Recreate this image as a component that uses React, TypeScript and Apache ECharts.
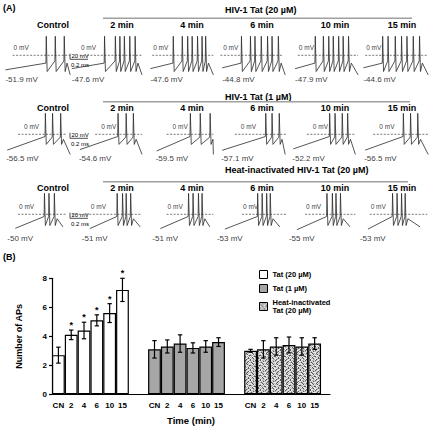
import React, { useEffect, useRef } from 'react';
import * as echarts from 'echarts';

const FONT = "'Liberation Sans', Arial, Helvetica, sans-serif";

// ---------------- Panel A data ----------------
const columnTitles = ['Control', '2 min', '4 min', '6 min', '10 min', '15 min'];
const rowTitles = ['HIV-1 Tat (20 µM)', 'HIV-1 Tat (1 µM)', 'Heat-inactivated HIV-1 Tat (20 µM)'];

// resting potentials (mV) shown under each trace
const restTat20 = [-51.9, -47.6, -47.6, -44.8, -47.9, -44.6];
const restTat1 = [-56.5, -54.6, -59.5, -57.1, -52.2, -56.5];
const restHeat = [-50, -51, -51, -53, -55, -53];

// spike times (ms, scale bar 0.2 ms) within each recording window
const spikesTat20 = [
  [0.51, 0.61, 0.71],
  [0.38, 0.5, 0.55, 0.6, 0.66, 0.72],
  [0.31, 0.41, 0.47, 0.52, 0.58, 0.63, 0.67],
  [0.29, 0.39, 0.44, 0.51, 0.58, 0.63, 0.7],
  [0.31, 0.4, 0.46, 0.51, 0.57, 0.62, 0.68],
  [0.27, 0.33, 0.41, 0.48, 0.54, 0.61, 0.68],
];
const spikesTat1 = [
  [0.5, 0.58, 0.67],
  [0.53, 0.62, 0.7],
  [0.5, 0.61, 0.72],
  [0.56, 0.63, 0.71],
  [0.47, 0.53, 0.61, 0.67],
  [0.5, 0.58, 0.66],
];
const spikesHeat = [
  [0.49, 0.54, 0.6],
  [0.52, 0.58, 0.62, 0.67],
  [0.48, 0.53, 0.59, 0.63],
  [0.47, 0.52, 0.57, 0.61],
  [0.44, 0.5, 0.54, 0.59],
  [0.38, 0.43, 0.48, 0.52],
];

// recording windows [start, end] (ms)
const windowTat20 = [[0.06, 0.78], [0.02, 0.8], [0.06, 0.76], [0.08, 0.78], [0.09, 0.79], [0.06, 0.78]];
const windowTat1 = [[0.08, 0.78], [0.11, 0.8], [0.13, 0.76], [0.08, 0.78], [0.07, 0.76], [0.08, 0.78]];
const windowHeat = [[0.17, 0.7], [0.22, 0.78], [0.17, 0.72], [0.11, 0.72], [0.11, 0.7], [0.11, 0.69]];

// extent of the dashed 0 mV reference line (ms)
const zeroTat20 = [[0.14, 0.78], [0.11, 0.8], [0.08, 0.76], [0.06, 0.76], [0.12, 0.79], [0.08, 0.78]];
const zeroTat1 = [[0.2, 0.74], [0.28, 0.8], [0.24, 0.76], [0.22, 0.8], [0.22, 0.76], [0.17, 0.78]];
const zeroHeat = [[0.2, 0.74], [0.02, 0.8], [0.24, 0.76], [0.3, 0.8], [0.2, 0.76], [0.13, 0.77]];

// spike waveform levels (mV) per row
const spikePeak = [68, 75, 75];
const spikeOnset = [-28, -8, -8];
const spikeThreshold = [-20, -10, -8];
const spikeTrough = [-58, -36, -40];
const traceEndV = [-70, -72, -45];

// ---------------- Panel B data ----------------
const timeLabels = ['CN', '2', '4', '6', '10', '15'];
const seriesNames = ['Tat (20 µM)', 'Tat (1 µM)', 'Heat-inactivated\nTat (20 µM)'];
const tat20Mean = [2.7, 4.1, 4.4, 5.1, 5.6, 7.2];
const tat20Err = [0.55, 0.33, 0.57, 0.38, 0.65, 0.8];
const tat20Sig = [0, 1, 1, 1, 1, 1];
const tat1Mean = [3.1, 3.3, 3.5, 3.2, 3.3, 3.6];
const tat1Err = [0.6, 0.45, 0.6, 0.35, 0.4, 0.3];
const tat1Sig = [0, 0, 0, 0, 0, 0];
const heatMean = [3.0, 3.1, 3.3, 3.4, 3.3, 3.5];
const heatErr = [0.1, 0.6, 0.6, 0.55, 0.6, 0.4];
const heatSig = [0, 0, 0, 0, 0, 0];

// ---------------- layout ----------------
const COL_LEFT = [0, 70, 145, 215, 287, 358];
const COL_CENTER = [53, 122, 192, 262, 335, 402];
const ROW_ZERO_Y = [55.3, 134.3, 214.3];
const ROW_TITLE_Y = [10, 96.5, 170];
const ROW_LINE_Y = [18.3, 101.7, 181.7];
const ROW_LINE_END = [412, 410, 408];
const COL_TITLE_Y = [25, 108.3, 188.3];
const ZERO_LABEL_SHIFT = [1, 6, 1];
const REST_LABEL_SHIFT = [0, -1, -8];
const PX_PER_MS = 90;
const PX_PER_MV = 0.28;
const V_HALF = 100;
const GRID_W = 72;

const B_LEFT = 52;
const B_TOP = 278.3;
const B_W = 278;
const B_H = 116;
const X_MAX = 21.7;
const GROUP_OFFSET = [0, 7.5, 15];

// speckle texture for heat-inactivated bars (0 light, 1 mid, 2 dark)
const SPECKLE = [
  '2011021001',
  '0102110120',
  '1210001201',
  '0021102010',
  '1002011200',
  '2110100012',
  '0101220101',
  '1020011020',
  '0112000121',
  '2001102100',
];

function buildTrace(win: number[], rest: number, spikes: number[], r: number) {
  const pts: number[][] = [[win[0], rest]];
  spikes.forEach((s, i) => {
    pts.push([s, i === 0 ? spikeOnset[r] : spikeThreshold[r]]);
    pts.push([s + 0.004, spikePeak[r]]);
    pts.push([s + 0.014, spikeTrough[r]]);
  });
  const last = spikes[spikes.length - 1];
  if (last + 0.035 < win[1]) pts.push([last + 0.035, spikeThreshold[r] - 8]);
  pts.push([win[1], traceEndV[r]]);
  return pts;
}

function makePattern() {
  const cols = ['#e8e8e8', '#b4b4b4', '#585858'];
  const n = SPECKLE.length;
  const c = document.createElement('canvas');
  c.width = n;
  c.height = n;
  const ctx = c.getContext('2d')!;
  SPECKLE.forEach((row, y) => {
    row.split('').forEach((ch, x) => {
      ctx.fillStyle = cols[Number(ch)];
      ctx.fillRect(x, y, 1, 1);
    });
  });
  return c;
}

function txt(text: string, x: number, y: number, size: number, bold: boolean, align = 'left', color = '#000') {
  return {
    type: 'text',
    x,
    y,
    silent: true,
    style: {
      text,
      fill: color,
      fontSize: size,
      fontWeight: bold ? 'bold' : 'normal',
      fontFamily: FONT,
      align,
      textAlign: align,
      verticalAlign: 'middle',
      textVerticalAlign: 'middle',
    },
  };
}

function buildOption() {
  const grids: any[] = [];
  const xAxes: any[] = [];
  const yAxes: any[] = [];
  const series: any[] = [];
  const graphic: any[] = [];

  const rests = [restTat20, restTat1, restHeat];
  const spikes = [spikesTat20, spikesTat1, spikesHeat];
  const wins = [windowTat20, windowTat1, windowHeat];
  const zeros = [zeroTat20, zeroTat1, zeroHeat];
  const tMax = GRID_W / PX_PER_MS;
  const gridH = 2 * V_HALF * PX_PER_MV;

  for (let r = 0; r < 3; r++) {
    for (let c = 0; c < 6; c++) {
      const idx = r * 6 + c;
      grids.push({ left: COL_LEFT[c], top: ROW_ZERO_Y[r] - gridH / 2, width: GRID_W, height: gridH, containLabel: false });
      xAxes.push({ gridIndex: idx, type: 'value', min: 0, max: tMax, show: false });
      yAxes.push({ gridIndex: idx, type: 'value', min: -V_HALF, max: V_HALF, show: false });
      const win = wins[r][c];
      const z = zeros[r][c];
      series.push({
        type: 'line',
        xAxisIndex: idx,
        yAxisIndex: idx,
        data: buildTrace(win, rests[r][c], spikes[r][c], r),
        symbol: 'none',
        silent: true,
        z: 3,
        lineStyle: { color: '#2a2a2a', width: 0.8 },
      });
      series.push({
        type: 'line',
        xAxisIndex: idx,
        yAxisIndex: idx,
        data: [[z[0], 0], [z[1], 0]],
        symbol: 'none',
        silent: true,
        z: 2,
        lineStyle: { color: '#555', width: 0.8, type: [2, 1.5] },
      });
      series.push({
        type: 'scatter',
        xAxisIndex: idx,
        yAxisIndex: idx,
        symbolSize: 0,
        silent: true,
        itemStyle: { color: '#000' },
        data: [
          {
            name: '0 mV',
            value: [Math.max(z[0], win[0]) + ZERO_LABEL_SHIFT[r] / PX_PER_MS, 27],
            label: { fontSize: 6.5 },
          },
          {
            name: `${rests[r][c]} mV`,
            value: [win[0] + REST_LABEL_SHIFT[r] / PX_PER_MS, -88],
            label: { fontSize: 8 },
          },
        ],
        label: {
          show: true,
          position: 'right',
          distance: 0,
          formatter: '{b}',
          color: '#000',
          fontFamily: FONT,
        },
      });
    }
    // row header, line, column titles
    graphic.push(txt(rowTitles[r], 225, ROW_TITLE_Y[r], 9, true));
    graphic.push({
      type: 'line',
      silent: true,
      shape: { x1: 103, y1: ROW_LINE_Y[r], x2: ROW_LINE_END[r], y2: ROW_LINE_Y[r] },
      style: { stroke: '#a0a0a0', lineWidth: 1.6 },
    });
    columnTitles.forEach((t, c) => graphic.push(txt(t, COL_CENTER[c], COL_TITLE_Y[r], 9, true, 'center')));
    // scale bar
    const zy = ROW_ZERO_Y[r];
    const sx = 70;
    graphic.push({
      type: 'polyline',
      silent: true,
      shape: { points: [[sx, zy - 1.6], [sx, zy + 4], [sx + 18, zy + 4]] },
      style: { stroke: '#222', lineWidth: 0.8, fill: null },
    });
    graphic.push(txt('20 mV', sx + 1.5, zy + 1, 6, false));
    graphic.push(txt('0.2 ms', sx + 1, zy + 9.5, 6, false));
  }
  graphic.push(txt('(A)', 3, 7.5, 9, true));
  graphic.push(txt('(B)', 3, 256.7, 9, true));

  // ---------------- Panel B ----------------
  const bIdx = 18;
  grids.push({ left: B_LEFT, top: B_TOP, width: B_W, height: B_H, containLabel: false });
  const xPos = (g: number, i: number) => GROUP_OFFSET[g] + i + 0.5;
  const labelPositions: number[] = [];
  const labelMap: Record<string, string> = {};
  for (let g = 0; g < 3; g++) {
    timeLabels.forEach((l, i) => {
      const v = xPos(g, i);
      labelPositions.push(v);
      labelMap[v.toFixed(2)] = l;
    });
  }
  xAxes.push({
    gridIndex: bIdx,
    type: 'value',
    min: 0,
    max: X_MAX,
    splitLine: { show: false },
    axisTick: { show: false },
    axisLine: { show: true, lineStyle: { color: '#000', width: 1.2 } },
    axisLabel: {
      customValues: labelPositions,
      formatter: (v: number) => labelMap[Number(v).toFixed(2)] ?? '',
      color: '#000',
      fontSize: 8,
      fontWeight: 'bold',
      fontFamily: FONT,
      margin: 7,
      showMinLabel: true,
      showMaxLabel: true,
    },
    name: 'Time (min)',
    nameLocation: 'middle',
    nameGap: 21,
    nameTextStyle: { color: '#000', fontSize: 9.5, fontWeight: 'bold', fontFamily: FONT },
  });
  yAxes.push({
    gridIndex: bIdx,
    type: 'value',
    min: 0,
    max: 8,
    interval: 2,
    splitLine: { show: false },
    axisLine: { show: true, lineStyle: { color: '#000', width: 1.2 } },
    axisTick: { show: true, length: 3, lineStyle: { color: '#000', width: 1.2 } },
    axisLabel: { color: '#000', fontSize: 8, fontWeight: 'bold', fontFamily: FONT, margin: 5 },
    name: 'Number of APs',
    nameLocation: 'middle',
    nameGap: 29,
    nameRotate: 90,
    nameTextStyle: { color: '#000', fontSize: 9, fontWeight: 'bold', fontFamily: FONT },
  });

  const barW = B_W / X_MAX;
  const pattern = makePattern();
  const fills: any[] = ['#ffffff', '#a6a6a6', { image: pattern, repeat: 'repeat' }];
  const means = [tat20Mean, tat1Mean, heatMean];
  const errs = [tat20Err, tat1Err, heatErr];
  const sigs = [tat20Sig, tat1Sig, heatSig];
  for (let g = 0; g < 3; g++) {
    series.push({
      type: 'bar',
      name: seriesNames[g],
      xAxisIndex: bIdx,
      yAxisIndex: bIdx,
      barWidth: barW,
      barGap: '-100%',
      z: 2,
      silent: true,
      data: means[g].map((v, i) => [xPos(g, i), v]),
      itemStyle: { color: fills[g], borderColor: '#000', borderWidth: 1.2 },
    });
  }
  const errData: number[][] = [];
  for (let g = 0; g < 3; g++) {
    means[g].forEach((m, i) => errData.push([xPos(g, i), m, errs[g][i], sigs[g][i]]));
  }
  series.push({
    type: 'custom',
    xAxisIndex: bIdx,
    yAxisIndex: bIdx,
    z: 5,
    silent: true,
    data: errData,
    encode: { x: 0, y: 1 },
    renderItem: (_params: any, api: any) => {
      const x = api.value(0);
      const m = api.value(1);
      const e = api.value(2);
      const s = api.value(3);
      const top = api.coord([x, m + e]);
      const bot = api.coord([x, m - e]);
      const cap = 2.2;
      const st = { stroke: '#000', lineWidth: 1.2 };
      const children: any[] = [
        { type: 'line', shape: { x1: top[0], y1: top[1], x2: bot[0], y2: bot[1] }, style: st },
        { type: 'line', shape: { x1: top[0] - cap, y1: top[1], x2: top[0] + cap, y2: top[1] }, style: st },
        { type: 'line', shape: { x1: bot[0] - cap, y1: bot[1], x2: bot[0] + cap, y2: bot[1] }, style: st },
      ];
      if (s) {
        children.push({
          type: 'text',
          x: top[0],
          y: top[1] - 5,
          style: {
            text: '*',
            fill: '#000',
            fontSize: 9,
            fontWeight: 'bold',
            fontFamily: FONT,
            align: 'center',
            verticalAlign: 'middle',
          },
        });
      }
      return { type: 'group', children };
    },
  });

  return {
    animation: false,
    backgroundColor: '#ffffff',
    grid: grids,
    xAxis: xAxes,
    yAxis: yAxes,
    series,
    graphic,
    legend: {
      data: seriesNames,
      orient: 'vertical',
      left: 254,
      top: 265,
      icon: 'rect',
      itemWidth: 8,
      itemHeight: 8,
      itemGap: 5,
      selectedMode: false,
      itemStyle: { borderColor: '#000', borderWidth: 1 },
      textStyle: { color: '#000', fontSize: 7.5, fontWeight: 'bold', fontFamily: FONT, lineHeight: 8.5 },
    },
  };
}

export default function App() {
  const ref = useRef<HTMLDivElement>(null);
  useEffect(() => {
    if (!ref.current) return;
    const chart = echarts.init(ref.current, null, { renderer: 'svg' });
    chart.setOption(buildOption() as any);
    return () => chart.dispose();
  }, []);
  return (
    <div
      ref={ref}
      style={{ position: 'fixed', left: 0, top: 0, width: 430, height: 429, background: '#fff' }}
    />
  );
}
